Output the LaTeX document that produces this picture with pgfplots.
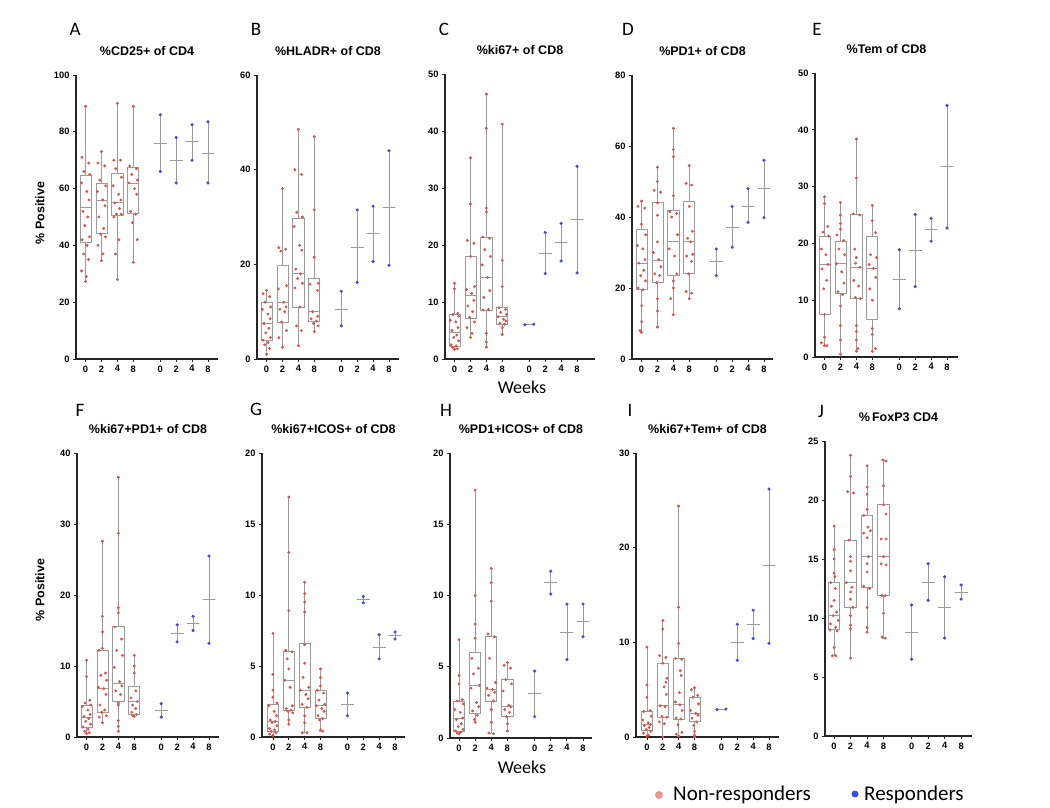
\documentclass[border=0pt]{standalone}
\usepackage{fontspec}
\setmainfont{Liberation Sans}
\newfontfamily\carl{Carlito}
\usepackage{pgfplots}
\pgfplotsset{compat=1.18}
\usepgfplotslibrary{statistics}
\definecolor{nrred}{RGB}{217,83,72}
\definecolor{nrpink}{RGB}{234,150,142}
\definecolor{rblue}{RGB}{58,78,222}
\definecolor{bgray}{RGB}{155,155,155}
\pgfplotsset{
 panel/.style={scale only axis, anchor=south west, axis lines*=left,
   axis line style={line width=1.1pt, black!85}, ymin=0,
   xtick={0,1,2,3,4.7,5.7,6.7,7.7}, xticklabels={0,2,4,8,0,2,4,8},
   tick align=outside, major tick length=3pt, tick style={line width=0.8pt, black!85},
   tick label style={font=\bfseries\fontsize{9.3}{11}\selectfont},
   /pgf/number format/assume math mode=true,
   title style={font=\bfseries\fontsize{12.5}{14}\selectfont, at={(0.5,1)}, anchor=center, yshift=18pt},
   clip=false},
 nrbox/.style={draw=bgray, line width=0.75pt, solid, boxplot/draw direction=y, boxplot/box extend=0.7, boxplot/whisker extend=0.15},
 rbox/.style={draw=bgray, line width=0.75pt, solid, boxplot/draw direction=y, boxplot/box extend=0.8, boxplot/whisker extend=0},
 nrdot/.style={only marks, mark=*, mark size=1.25pt, color=nrred, mark options={draw=none, fill=nrred}},
 rdot/.style={only marks, mark=*, mark size=1.4pt, color=rblue, mark options={draw=none, fill=rblue}},
}
\newcommand{\nrb}[6]{\addplot[nrbox, boxplot prepared={draw position=#1, lower whisker=#2, lower quartile=#3, median=#4, upper quartile=#5, upper whisker=#6}] coordinates {};}
\newcommand{\rb}[4]{\addplot[rbox, boxplot prepared={draw position=#1, lower whisker=#2, lower quartile=#3, median=#3, upper quartile=#3, upper whisker=#4}] coordinates {};}
\begin{document}
\begin{tikzpicture}
\useasboundingbox (0pt,0pt) rectangle (1050pt,807pt);
% ---------------- A
\begin{axis}[panel, at={(76pt,448pt)}, width=142pt, height=284pt, xmin=-0.6, xmax=8.33, ymax=100, ytick={0,20,40,60,80,100}, title={\%CD25+ of CD4}]
\nrb{0}{27.3}{41.1}{53.5}{64.6}{89}
\nrb{1}{34.6}{44.1}{56}{61.7}{73}
\nrb{2}{28}{50.5}{55}{65.5}{90}
\nrb{3}{34}{51.4}{62}{67.5}{89}
\rb{4.7}{66}{76}{86}
\rb{5.7}{62}{70}{78}
\rb{6.7}{70}{76.5}{82.5}
\rb{7.7}{62}{72.5}{83.5}
\addplot[nrdot] coordinates {(0,89)(-0.22,71)(0.2,69)(-0.1,66)(0.26,65)(-0.26,62)(0.08,59)(0.22,56)(-0.16,52)(0.14,50)(-0.05,47)(0.25,43)(-0.22,42)(0.1,40)(-0.12,37)(0.18,35)(-0.25,31)(0.05,29)(0,27.3)
(1,73)(0.78,69)(1.2,68)(0.9,63)(1.26,61)(0.74,59)(1.08,56)(1.22,54)(0.84,50)(1.14,46)(0.95,44)(1.25,43)(0.78,40)(1.1,37)(1,34.6)
(2,90)(1.78,70)(2.2,70)(1.9,67)(2.26,64)(1.74,61)(2.08,58)(2.22,56)(1.84,55)(2.14,53)(1.95,51)(2.25,51)(1.78,50)(2.1,42)(1.88,37)(2,28)
(3,89)(2.78,68)(3.2,67)(2.9,65)(3.26,63)(2.74,62)(3.08,60)(3.22,58)(2.84,52)(3.14,51)(2.95,48)(3.25,42)(3,34)};
\addplot[rdot] coordinates {(4.7,66)(4.7,86)(5.7,62)(5.7,78)(6.7,70)(6.7,82.5)(7.7,62)(7.7,83.5)};
\end{axis}
% ---------------- B
\begin{axis}[panel, at={(257pt,448pt)}, width=142pt, height=284pt, xmin=-0.6, xmax=8.33, ymax=60, ytick={0,20,40,60}, title={\%HLADR+ of CD8}]
\nrb{0}{1}{4}{7.5}{12}{14.5}
\nrb{1}{2.5}{7.8}{12}{19.8}{36}
\nrb{2}{2.8}{11}{18}{29.7}{48.5}
\nrb{3}{5.8}{8}{10}{17}{47}
\rb{4.7}{7}{10.5}{14.3}
\rb{5.7}{16.2}{23.5}{31.5}
\rb{6.7}{20.6}{26.5}{32.3}
\rb{7.7}{19.8}{32}{44}
\addplot[nrdot] coordinates {(0,14.5)(-0.22,13.8)(0.2,13.2)(-0.1,12)(0.26,11)(-0.26,10.5)(0.08,9.5)(0.22,8.5)(-0.16,7.5)(0.14,6.5)(-0.05,5.5)(0.25,4.5)(-0.22,4)(0.1,3.5)(-0.12,3)(0.18,2.2)(0,1)
(1,36)(0.78,23.5)(1.2,23.2)(0.9,22.8)(1.26,15.5)(0.74,14.8)(1.08,12)(1.22,11)(0.84,10.5)(1.14,10)(0.95,7.8)(1.25,6)(0.78,4.5)(1,2.5)
(2,48.5)(1.78,40)(2.2,39)(1.9,31)(2.26,30)(1.74,28)(2.08,24)(2.22,23)(1.84,19)(2.14,18)(1.95,17)(2.25,16)(1.78,15)(2.1,11)(1.88,7)(2.18,6)(2,2.8)
(3,47)(3,31.5)(3,21.5)(3.26,16)(2.74,15.8)(3.2,14.5)(2.9,10)(3.22,9)(2.8,8.5)(3.14,8)(2.95,7.5)(3.25,7)(3,5.8)};
\addplot[rdot] coordinates {(4.7,7)(4.7,14.3)(5.7,16.2)(5.7,31.5)(6.7,20.6)(6.7,32.3)(7.7,19.8)(7.7,44)};
\end{axis}
% ---------------- C
\begin{axis}[panel, at={(445pt,448pt)}, width=150pt, height=285pt, xmin=-0.6, xmax=8.83, ymax=50, ytick={0,10,20,30,40,50}, title={\%ki67+ of CD8}]
\nrb{0}{1.7}{2.3}{4.7}{7.8}{13.3}
\nrb{1}{3.8}{7.2}{11.2}{18}{35.3}
\nrb{2}{2.1}{8.6}{14.3}{21.4}{46.5}
\nrb{3}{4.3}{6.1}{7.4}{9}{41.2}
\addplot[rbox, boxplot prepared={draw position=4.7, lower whisker=6, lower quartile=6, median=6, upper quartile=6, upper whisker=6}, boxplot/box extend=0.56] coordinates {};
\rb{5.7}{15}{18.6}{22.2}
\rb{6.7}{17.2}{20.5}{23.8}
\rb{7.7}{15.1}{24.5}{33.8}
\addplot[nrdot] coordinates {(0,13.3)(0,12.3)(0.2,8)(-0.1,7.8)(0.26,7.5)(-0.26,6.8)(0.08,6.5)(0.22,5.5)(-0.16,5)(0.14,4.2)(-0.05,3.8)(0.25,3.2)(-0.22,2.5)(0.1,2.3)(-0.12,2)(0.18,1.8)(0,1.7)
(1,35.3)(1,27.2)(0.8,20.8)(1.22,20.3)(1,18)(1.26,12.7)(0.74,12.2)(1.08,11.5)(1.22,10.3)(0.84,9.3)(1.14,8.3)(0.95,7.3)(1.25,6.5)(0.78,5.5)(1.1,4.5)(1,3.8)
(2,46.5)(2,40.5)(2,26.5)(2,25.8)(1.78,21.4)(2.2,21.2)(1.9,19.2)(2.26,18)(1.74,16.5)(2.08,14.3)(2.22,12)(1.84,10.8)(2.14,8.7)(1.8,8.6)(2,4.5)(2,3)(2,2.1)
(3,41.2)(3,17.3)(3,12.7)(2.8,9)(3.2,8.7)(2.9,8.2)(3.26,7.8)(2.74,7.4)(3.08,7)(3.22,6.7)(2.84,6.3)(3.14,6.1)(3,5.5)(3,4.3)};
\addplot[rdot] coordinates {(4.42,6)(4.98,6.1)(5.7,15)(5.7,22.2)(6.7,17.2)(6.7,23.8)(7.7,15.1)(7.7,33.8)};
\end{axis}
% ---------------- D
\begin{axis}[panel, at={(632pt,448pt)}, width=141pt, height=284pt, xmin=-0.6, xmax=8.27, ymax=80, ytick={0,20,40,60,80}, title={\%PD1+ of CD8}]
\nrb{0}{7.5}{19.7}{27}{36.5}{44.5}
\nrb{1}{9}{21.5}{27.8}{44}{54}
\nrb{2}{12.5}{23.5}{33}{41.8}{65}
\nrb{3}{17}{24}{33}{44.5}{54.5}
\rb{4.7}{23.5}{27.5}{31}
\rb{5.7}{31.5}{37}{43}
\rb{6.7}{38.5}{43}{48}
\rb{7.7}{39.8}{48}{56}
\addplot[nrdot] coordinates {(0,44.5)(-0.22,43)(0.2,42.5)(0,38)(0.26,35)(-0.26,32)(0.08,31)(0.22,28)(-0.16,27)(0.14,25)(-0.05,23.5)(0.25,22)(-0.22,20)(0.1,19.5)(0,15)(0,10.5)(-0.1,8)(0,7.5)
(1,54)(1,50)(0.8,47.5)(1.2,47)(1,44)(1,40.5)(1,33)(0.74,30)(1.08,28)(1.22,26)(0.84,24)(1.14,23.5)(0.95,21.5)(1,17)(1,13.5)(1,9)
(2,65)(2,59)(2,57)(2,46)(1.78,41.5)(2.2,41)(1.9,40)(2.26,35)(1.74,31)(2.08,29)(2.22,24)(2,22)(2,20)(1.84,17)(2,12.5)
(3,54.5)(2.8,49.5)(3.15,49)(3,43)(3.2,36)(2.9,34)(3.08,33)(3.22,29.5)(2.84,29)(3.14,27.5)(2.95,24)(2.8,19)(3.15,18.5)(3,17)};
\addplot[rdot] coordinates {(4.7,23.5)(4.7,31)(5.7,31.5)(5.7,43)(6.7,38.5)(6.7,48)(7.7,39.8)(7.7,56)};
\end{axis}
% ---------------- E
\begin{axis}[panel, at={(815pt,450pt)}, width=143pt, height=284pt, xmin=-0.6, xmax=8.39, ymax=50, ytick={0,10,20,30,40,50}, title={\%Tem of CD8}]
\nrb{0}{2}{7.5}{16.3}{21.3}{28.2}
\nrb{1}{0.5}{11.2}{16.4}{20.4}{27.2}
\nrb{2}{1}{10.3}{15.8}{25.1}{38.4}
\nrb{3}{1}{6.7}{15.6}{21.3}{26.7}
\rb{4.7}{8.5}{13.6}{18.9}
\rb{5.7}{12.4}{18.8}{25.1}
\rb{6.7}{20.4}{22.4}{24.4}
\rb{7.7}{22.7}{33.6}{44.3}
\addplot[nrdot] coordinates {(0,28.2)(0,27)(0.2,23)(-0.1,22)(0.26,21.3)(-0.2,19)(0.08,18)(0.22,16.3)(-0.16,15.5)(0.14,13.5)(-0.05,12)(0,7.5)(0,3.5)(-0.2,2.5)(0.15,2)(0,2)
(1,27.2)(1,25)(1,23.5)(1,22.5)(0.78,21.5)(1.2,20.5)(0.9,19)(1.26,18)(0.74,16.4)(1.08,15)(1.22,13)(0.84,11.5)(1.14,11)(1,9)(1,5.5)(1,3)(1,0.5)
(2,38.4)(2,31.5)(1.8,25.2)(2.2,25)(1.9,19)(2,17.5)(1.95,16.5)(2.22,15.8)(1.84,13.5)(2.14,12.5)(1.95,10.5)(2.25,10.3)(2,5.5)(2,4.5)(2,3)(2.1,1.5)(2,1)
(3,26.7)(3,24)(3.2,21.9)(2.9,18)(3.26,17.5)(2.8,16.3)(3.08,15.6)(3.22,14)(2.84,12)(3,10)(3,5)(3,4)(3.2,1.5)(3,1)};
\addplot[rdot] coordinates {(4.7,8.5)(4.7,18.9)(5.7,12.4)(5.7,25.1)(6.7,20.4)(6.7,24.4)(7.7,22.7)(7.7,44.3)};
\end{axis}
% ---------------- F
\begin{axis}[panel, at={(77pt,70pt)}, width=142pt, height=284pt, xmin=-0.6, xmax=8.33, ymax=40, ytick={0,10,20,30,40}, title={\%ki67+PD1+ of CD8}]
\nrb{0}{0.5}{1.3}{2.8}{4.5}{10.8}
\nrb{1}{2}{3.5}{6.8}{12.2}{27.6}
\nrb{2}{0.8}{5}{7.6}{15.6}{36.6}
\nrb{3}{2.9}{3.2}{5}{7.2}{11.5}
\rb{4.7}{2.8}{3.8}{4.7}
\rb{5.7}{13.4}{14.6}{15.8}
\rb{6.7}{15}{16}{17}
\rb{7.7}{13.2}{19.4}{25.5}
\addplot[nrdot] coordinates {(0,10.8)(0,8.5)(0.2,5.2)(-0.1,4.8)(0.26,4.5)(-0.26,4.3)(0.08,3.8)(0.22,3.2)(-0.16,2.9)(0.14,2.6)(-0.05,2.2)(0.25,1.8)(-0.22,1.4)(0.1,1.1)(-0.12,0.8)(0.18,0.6)(0,0.5)
(1,27.6)(1,17)(1,14.8)(1,12.5)(0.78,12.2)(1.2,9)(0.9,8.7)(1.26,8)(0.74,7)(1.08,6.8)(1.22,6)(0.84,4.5)(1.14,3.8)(0.95,3.5)(1.25,3)(0.8,2.8)(1,2)
(2,36.6)(2,28.7)(2,18.2)(2,17.5)(1.78,15.5)(2.2,13.8)(1.9,12.2)(2.26,11.5)(1.74,9.8)(2.08,7.8)(2.22,7.2)(1.84,6.5)(2.14,6)(2,4.8)(2,4.5)(2,2.3)(2,1.5)(2,0.8)
(3,11.5)(3,10)(3,9)(3.1,6.5)(2.8,5.5)(3.2,5)(2.9,4.5)(3.1,4)(2.84,3.5)(3.14,3.2)(2.9,3)(3,2.9)};
\addplot[rdot] coordinates {(4.7,2.8)(4.7,4.7)(5.7,13.4)(5.7,15.8)(6.7,15)(6.7,17)(7.7,13.2)(7.7,25.5)};
\end{axis}
% ---------------- G
\begin{axis}[panel, at={(262pt,70pt)}, width=143pt, height=284pt, xmin=-0.69, xmax=8.33, ymax=20, ytick={0,5,10,15,20}, title={\%ki67+ICOS+ of CD8}]
\nrb{0}{0.1}{0.4}{1.1}{2.3}{7.3}
\nrb{1}{0.9}{1.85}{4}{6}{16.9}
\nrb{2}{0.3}{2.1}{3.3}{6.6}{10.9}
\nrb{3}{0.4}{1.3}{2.2}{3.3}{4.8}
\rb{4.7}{1.5}{2.3}{3.1}
\rb{5.7}{9.45}{9.7}{9.9}
\rb{6.7}{5.5}{6.3}{7.2}
\rb{7.7}{6.9}{7.15}{7.4}
\addplot[nrdot] coordinates {(0,7.3)(0,4.4)(0,3.3)(0,2.8)(0.26,2.4)(-0.26,2.2)(0.08,1.8)(0.22,1.5)(-0.16,1.2)(0.14,1.1)(-0.05,1.0)(0.25,0.8)(-0.22,0.6)(0.1,0.5)(-0.12,0.4)(0.18,0.3)(-0.2,0.2)(0,0.1)
(1,16.9)(1,13)(1,8.9)(0.8,6.1)(1.2,6)(0.9,5.5)(1,4.8)(0.74,4)(1.08,3.5)(1.22,2.2)(0.84,2)(1.14,1.9)(0.95,1.8)(1.25,1.7)(1,1.2)(1,0.9)
(2,10.9)(2,10.1)(2,9.5)(2,8.8)(2,6.5)(2,5.2)(1.9,4.2)(2.26,3.5)(1.74,3.3)(2.08,3)(2.22,2.7)(1.84,2.3)(2.14,2.1)(2,1.5)(2,1)(1.85,0.3)(2.15,0.3)
(3,4.8)(3,4.2)(3,3.6)(2.8,3.3)(3.2,3.1)(2.9,2.6)(3.26,2.3)(2.74,2.2)(3.08,2)(3.22,1.8)(2.84,1.5)(3.14,1.3)(2.95,1.2)(3,0.5)(3.15,0.4)};
\addplot[rdot] coordinates {(4.7,1.5)(4.7,3.1)(5.7,9.45)(5.7,9.9)(6.7,5.5)(6.7,7.2)(7.7,6.9)(7.7,7.4)};
\end{axis}
% ---------------- H
\begin{axis}[panel, at={(450pt,69pt)}, width=142pt, height=285pt, xmin=-0.56, xmax=8.26, ymax=20, ytick={0,5,10,15,20}, title={\%PD1+ICOS+ of CD8}]
\nrb{0}{0.3}{0.5}{1.4}{2.6}{6.9}
\nrb{1}{1.1}{1.7}{3.7}{6}{17.4}
\nrb{2}{0.3}{2.6}{3.4}{7.1}{11.9}
\nrb{3}{0.5}{1.5}{2.2}{4.1}{5.3}
\rb{4.7}{1.5}{3.1}{4.7}
\rb{5.7}{10.1}{10.9}{11.7}
\rb{6.7}{5.5}{7.4}{9.4}
\rb{7.7}{7.1}{8.2}{9.4}
\addplot[nrdot] coordinates {(0,6.9)(0,4.4)(0,3.8)(0.2,2.7)(-0.1,2.6)(0.26,2.4)(-0.26,2)(0.08,1.8)(0.22,1.4)(-0.16,1.3)(0.14,1)(-0.05,0.8)(0.25,0.6)(-0.22,0.5)(0.1,0.4)(-0.12,0.35)(0,0.3)
(1,17.4)(1,10)(1,8)(1,7)(0.8,5.6)(1.2,4.9)(0.9,4.5)(1.26,3.7)(0.74,3.5)(1.08,2.5)(1.22,2.2)(0.84,1.9)(1.14,1.6)(0.95,1.3)(1,1.1)
(2,11.9)(2,10.9)(2,9.6)(1.8,7.3)(2.2,7.1)(1.9,5.6)(2.26,3.9)(1.74,3.5)(2.08,3.4)(2.22,3.2)(1.84,3)(2.14,2.6)(2,2)(2,1.1)(1.85,0.35)(2.15,0.3)
(3,5.3)(2.8,5.1)(3.2,4.9)(2.9,4.1)(3.26,3.8)(2.74,3.3)(3.08,2.3)(3.22,2.2)(2.84,2)(3.14,1.8)(2.95,1.5)(3,1)(3,0.5)};
\addplot[rdot] coordinates {(4.7,1.5)(4.7,4.7)(5.7,10.1)(5.7,11.7)(6.7,5.5)(6.7,9.4)(7.7,7.1)(7.7,9.4)};
\end{axis}
% ---------------- I
\begin{axis}[panel, at={(636pt,70pt)}, width=143pt, height=284pt, xmin=-0.69, xmax=8.33, ymax=30, ytick={0,10,20,30}, title={\%ki67+Tem+ of CD8}]
\nrb{0}{0.1}{0.7}{1.3}{2.7}{9.5}
\nrb{1}{0}{2.1}{3.3}{7.8}{12.3}
\nrb{2}{0.1}{1.9}{3.4}{8.3}{24.4}
\nrb{3}{0}{1.6}{2.5}{4.2}{5.2}
\addplot[rbox, boxplot prepared={draw position=4.7, lower whisker=2.9, lower quartile=2.9, median=2.9, upper quartile=2.9, upper whisker=2.9}, boxplot/box extend=0.56] coordinates {};
\rb{5.7}{8.1}{10}{11.9}
\rb{6.7}{10.4}{11.9}{13.4}
\rb{7.7}{9.9}{18.1}{26.2}
\addplot[nrdot] coordinates {(0,9.5)(0,5.5)(0,4.2)(0.2,2.8)(-0.2,2.7)(0.26,2.2)(-0.26,1.8)(0.08,1.5)(0.22,1.3)(-0.16,1.2)(0.14,1)(-0.05,0.8)(0.25,0.6)(-0.22,0.4)(0.1,0.2)(0,0.1)
(1,12.3)(1,11.4)(0.8,8.6)(1.2,8.4)(1,7.8)(1.26,6.2)(1.2,5.8)(1.08,5.3)(1.22,4.5)(0.84,3.3)(1.14,3.2)(0.95,2.2)(1.25,2.1)(0.78,1.6)(1.1,1.4)(1,0)
(2,24.4)(2,13.7)(2,9.9)(1.8,8.3)(2.2,8.2)(2.1,7)(2.16,6.5)(2.05,4.7)(1.8,3.7)(2.08,3.4)(2.22,2.8)(1.84,2)(2.14,1.9)(1.95,1.3)(2.2,0.5)(1.85,0.3)(2,0.1)
(3,5.2)(2.8,5)(3.2,4.4)(2.9,4.2)(3.26,3.5)(2.74,2.8)(3.08,2.5)(3.22,2.3)(2.84,2)(3.14,1.6)(2.95,1.2)(3,0.6)(3,0.2)(3,0)};
\addplot[rdot] coordinates {(4.42,2.9)(4.98,2.95)(5.7,8.1)(5.7,11.9)(6.7,10.4)(6.7,13.4)(7.7,9.9)(7.7,26.2)};
\end{axis}
% ---------------- J
\begin{axis}[panel, at={(825pt,71pt)}, width=147pt, height=295pt, xmin=-0.55, xmax=8.36, ymax=25, ytick={0,5,10,15,20,25}, title={\%\,FoxP3 CD4}]
\nrb{0}{6.8}{9}{10.2}{13}{17.8}
\nrb{1}{6.6}{10.9}{13}{16.6}{23.8}
\nrb{2}{8.8}{12.6}{15.2}{18.7}{22.9}
\nrb{3}{8.3}{11.9}{15.2}{19.6}{23.4}
\rb{4.7}{6.5}{8.8}{11.1}
\rb{5.7}{11.5}{13.05}{14.6}
\rb{6.7}{8.3}{10.9}{13.5}
\rb{7.7}{11.6}{12.2}{12.8}
\addplot[nrdot] coordinates {(0,17.8)(0,15.8)(0,15)(0,13.8)(0.05,13.5)(-0.2,13)(0.08,12.5)(0,11.5)(-0.16,11)(0.14,10.5)(-0.05,10.2)(0.25,9.8)(-0.22,9.5)(0.1,9.2)(-0.25,9.0)(0.18,8.9)(0,7.5)(-0.1,6.8)(0.1,6.8)
(1,23.8)(1,22)(0.82,20.7)(1.18,20.6)(0.9,16.6)(1,15.2)(1,14.8)(1,14)(0.74,13)(1.08,12.6)(1,12.2)(1,11.6)(1.14,10.9)(1,10.2)(1,9.4)(1,9.1)(1,6.6)
(2,22.9)(2,21.1)(2,20.5)(2,19.2)(1.8,18.7)(2.05,17.7)(2.2,17.4)(1.8,17.2)(2.0,16.8)(2.08,15.2)(2.0,14.6)(2,13.9)(1.8,12.7)(2.14,12.5)(2,10.9)(2,9.2)(2,8.8)
(2.95,23.4)(3.15,23.3)(3,21.2)(3,19.6)(3.15,18.8)(2.85,16.7)(3.15,16.7)(3,15.2)(2.85,14.6)(3.15,14.5)(2.9,11.9)(3.1,11.9)(3,10.4)(2.9,8.4)(3.1,8.3)};
\addplot[rdot] coordinates {(4.7,6.5)(4.7,11.1)(5.7,11.5)(5.7,14.6)(6.7,8.3)(6.7,13.5)(7.7,11.6)(7.7,12.8)};
\end{axis}
% ---------------- labels
\begin{scope}[every node/.style={font=\carl\fontsize{19}{22}\selectfont}]
\node at (75pt,778pt) {A};
\node at (256pt,778pt) {B};
\node at (444pt,778pt) {C};
\node at (628pt,778pt) {D};
\node at (817pt,778pt) {E};
\node at (80pt,397pt) {F};
\node at (256pt,398pt) {G};
\node at (446pt,397pt) {H};
\node at (630pt,397pt) {I};
\node at (821pt,396pt) {J};
\end{scope}
\node[rotate=90, font=\bfseries\fontsize{12.5}{14}\selectfont] at (40pt,594pt) {\% Positive};
\node[rotate=90, font=\bfseries\fontsize{12.5}{14}\selectfont] at (40pt,217pt) {\% Positive};
\node[font=\carl\fontsize{18}{21}\selectfont] at (522pt,420pt) {Weeks};
\node[font=\carl\fontsize{18}{21}\selectfont] at (522pt,40pt) {Weeks};
\fill[nrpink] (659pt,12pt) circle (4pt);
\node[anchor=west, font=\carl\fontsize{21}{24}\selectfont, inner sep=0pt] at (673pt,12pt) {Non-responders};
\fill[rblue] (855pt,13pt) circle (3.5pt);
\node[anchor=west, font=\carl\fontsize{21}{24}\selectfont, inner sep=0pt] at (864pt,12pt) {Responders};
\end{tikzpicture}
\end{document}
